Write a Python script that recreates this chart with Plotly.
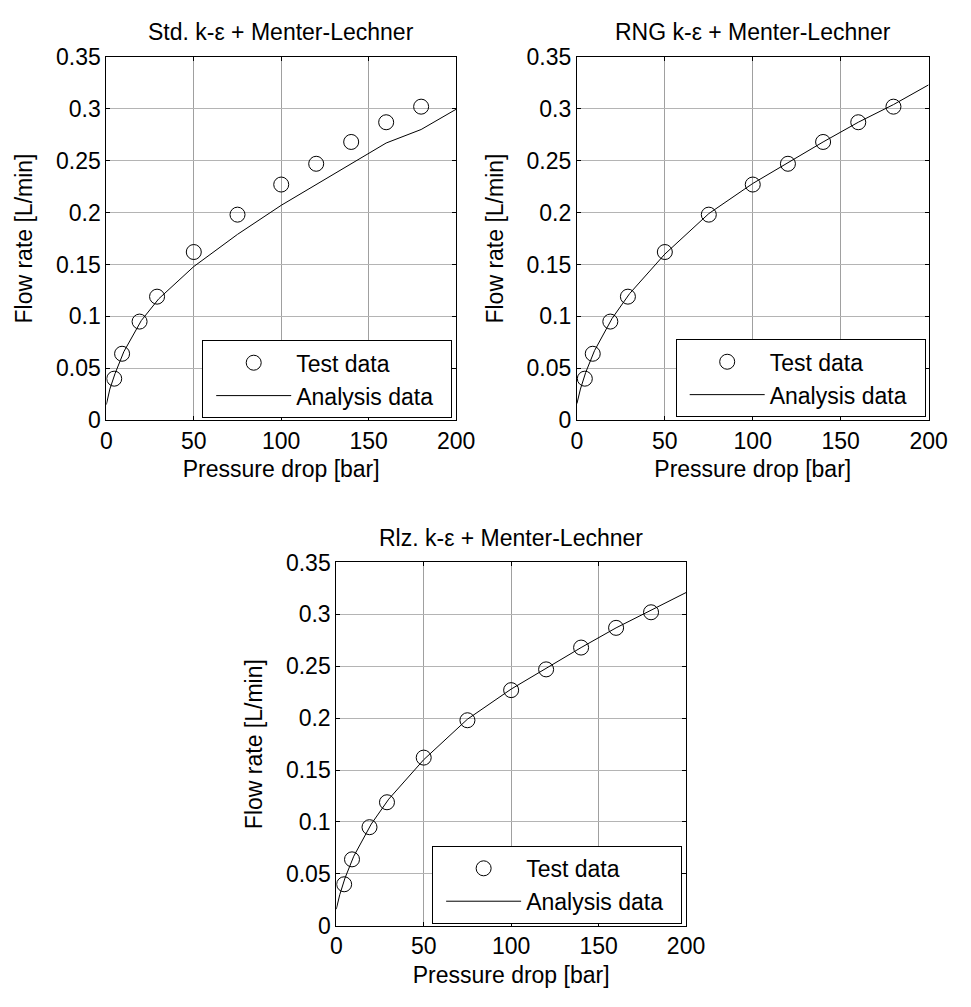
import plotly.graph_objects as go

# ---------------- data ----------------
test_x = [4.5, 9, 19, 29, 50, 75, 100, 120, 140, 160, 180]
test_y = [0.040, 0.064, 0.095, 0.119, 0.162, 0.198, 0.227, 0.247, 0.268, 0.287, 0.302]

ana_x = [0, 2, 5, 10, 20, 30, 50, 75, 100, 120, 140, 160, 180, 200]
std_y = [0.015, 0.030, 0.045, 0.066, 0.096, 0.117, 0.148, 0.179, 0.207, 0.227, 0.247, 0.267, 0.280, 0.2995]
rng_y = [0.016, 0.030, 0.046, 0.067, 0.098, 0.122, 0.160, 0.199, 0.228, 0.248, 0.268, 0.287, 0.304, 0.323]
rlz_y = [0.016, 0.030, 0.046, 0.067, 0.098, 0.122, 0.160, 0.199, 0.228, 0.248, 0.268, 0.287, 0.304, 0.321]

titles = ["Std. k-\u03b5 + Menter-Lechner", "RNG k-\u03b5 + Menter-Lechner", "Rlz. k-\u03b5 + Menter-Lechner"]
x_ticks = [0, 50, 100, 150, 200]
x_ticktext = ["0", "50", "100", "150", "200"]
y_ticks = [0, 0.05, 0.1, 0.15, 0.2, 0.25, 0.3, 0.35]
y_ticktext = ["0", "0.05", "0.1", "0.15", "0.2", "0.25", "0.3", "0.35"]
x_label = "Pressure drop [bar]"
y_label = "Flow rate [L/min]"
legend_names = ["Test data", "Analysis data"]

# ---------------- layout geometry (pixels) ----------------
W, H = 971, 1007
FONT = "Arial, 'Liberation Sans', sans-serif"
FS = 23
NBSP_PAD = "\u00a0\u00a0"  # right padding inside legend box

def px_x(p):
    return p / W

def px_y(p):
    return 1 - p / H

panels = [
    dict(x=(103, 462), y=(45, 418), leg=(458, 416)),
    dict(x=(586, 947), y=(45, 418), leg=(944, 415)),
    dict(x=(339, 698), y=(564, 937), leg=(694, 935)),
]
series = [std_y, rng_y, rlz_y]

fig = go.Figure()
layout = dict(
    width=W, height=H,
    margin=dict(l=0, r=0, t=0, b=0),
    paper_bgcolor="white", plot_bgcolor="white",
    font=dict(family=FONT, size=FS, color="black"),
    showlegend=True,
    annotations=[],
)

for i, (p, ys) in enumerate(zip(panels, series)):
    k = "" if i == 0 else str(i + 1)
    leg = "legend" if i == 0 else f"legend{i + 1}"
    fig.add_trace(go.Scatter(
        x=test_x, y=test_y, mode="markers", name=legend_names[0],
        marker=dict(symbol="circle-open", size=15, color="black", line=dict(width=1)),
        xaxis="x" + k, yaxis="y" + k, legend=leg, showlegend=True,
    ))
    fig.add_trace(go.Scatter(
        x=ana_x, y=ys, mode="lines", name=legend_names[1] + NBSP_PAD,
        line=dict(color="black", width=1),
        xaxis="x" + k, yaxis="y" + k, legend=leg, showlegend=True,
    ))
    common = dict(
        showline=True, linecolor="black", linewidth=1, mirror="allticks",
        ticks="inside", ticklen=4, tickwidth=1, tickcolor="black",
        zeroline=False, showgrid=True,
        tickfont=dict(family=FONT, size=FS, color="black"),
    )
    layout["xaxis" + k] = dict(
        common, domain=[px_x(p["x"][0]), px_x(p["x"][1])],
        anchor="y" + k, range=[0, 200], tickvals=x_ticks, ticktext=x_ticktext,
        gridcolor="#a0a0a0", gridwidth=1,
        title=dict(text=x_label, standoff=8, font=dict(family=FONT, size=FS)),
    )
    layout["yaxis" + k] = dict(
        common, domain=[px_y(p["y"][1]), px_y(p["y"][0])],
        anchor="x" + k, range=[0, 0.35], tickvals=y_ticks, ticktext=y_ticktext,
        gridcolor="#b4b4b4", gridwidth=1,
        title=dict(text=y_label, standoff=16, font=dict(family=FONT, size=FS)),
    )
    layout[leg] = dict(
        x=px_x(p["leg"][0]), y=px_y(p["leg"][1]), xanchor="right", yanchor="bottom",
        xref="paper", yref="paper",
        bgcolor="white", bordercolor="black", borderwidth=1,
        font=dict(family=FONT, size=FS, color="black"),
        itemwidth=75, tracegroupgap=0, indentation=8,
    )
    layout["annotations"].append(dict(
        text=titles[i], xref="paper", yref="paper",
        x=px_x((p["x"][0] + p["x"][1]) / 2), y=px_y(p["y"][0] - 25),
        xanchor="center", yanchor="middle", showarrow=False,
        font=dict(family=FONT, size=FS, color="black"),
    ))

fig.update_layout(**layout)
fig.write_html(
    "out.html",
    config={"displayModeBar": False},
    post_script="document.body.style.margin='0px';",
)
